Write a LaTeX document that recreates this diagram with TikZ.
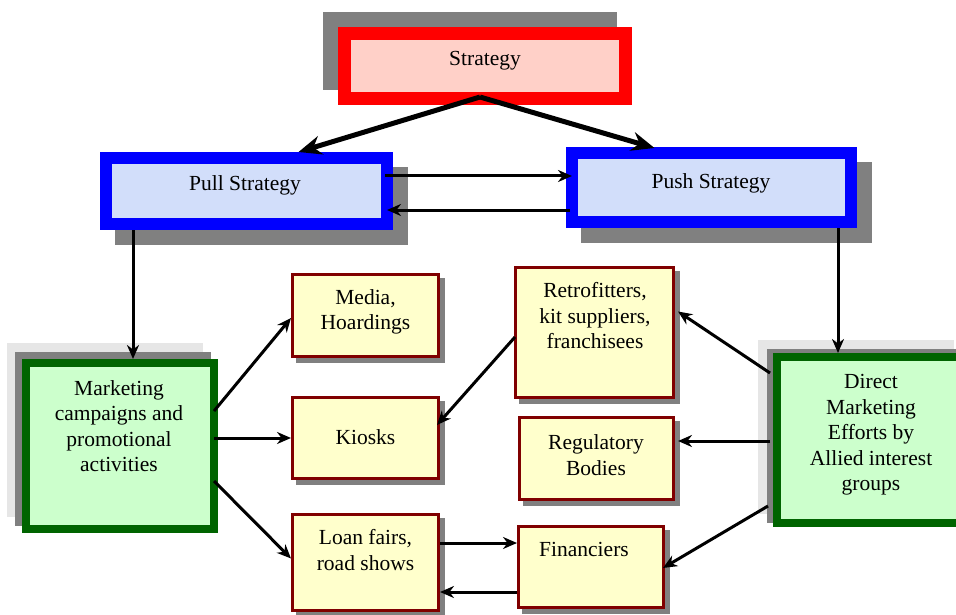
\documentclass[tikz,border=0pt]{standalone}
\usepackage{fontspec}
\setmainfont{Liberation Serif}
\usetikzlibrary{arrows.meta,calc,backgrounds}
\definecolor{stratred}{RGB}{255,0,0}
\definecolor{stratfill}{RGB}{255,208,200}
\definecolor{sideblue}{RGB}{0,0,255}
\definecolor{sidefill}{RGB}{210,222,250}
\definecolor{maingreen}{RGB}{0,100,0}
\definecolor{mainfill}{RGB}{204,255,204}
\definecolor{itemred}{RGB}{128,0,0}
\definecolor{itemfill}{RGB}{255,255,204}
\definecolor{shadegray}{RGB}{128,128,128}
\definecolor{shadelight}{RGB}{230,230,230}

\begin{document}
\begin{tikzpicture}[x=1pt, y=-1pt, line join=miter,
    font=\fontsize{21.5}{25.5}\selectfont,
    box/.style={rectangle, inner sep=0pt},
    topbox/.style={box, draw=stratred, fill=stratfill, line width=13pt},
    sidebox/.style={box, draw=sideblue, fill=sidefill, line width=12pt},
    mainbox/.style={box, draw=maingreen, fill=mainfill, line width=8pt, minimum width=188, minimum height=166},
    itembox/.style={box, draw=itemred, fill=itemfill, line width=3pt},
    txt/.style={align=center, inner sep=0pt},
    arr/.style={line width=3pt, -{Stealth[length=14pt,width=12pt]}},
    bigarr/.style={line width=5pt, -{Stealth[length=23pt,width=19pt]}}]
  \useasboundingbox (0,0) rectangle (956,615);

  % Top level
  \node[topbox, minimum width=281, minimum height=65] (strat) at (485,66) {};
  \node[sidebox, minimum width=281, minimum height=66] (pull) at (246.5,191) {};
  \node[sidebox, minimum width=279, minimum height=69] (push) at (711.5,187.5) {};

  % Channel boxes
  \node[mainbox] (mkt) at (120,446) {};
  \node[mainbox] (direct) at (871,440) {};

  % Target boxes
  \node[itembox, minimum width=146, minimum height=82] (media) at (365.5,315.5) {};
  \node[itembox, minimum width=146, minimum height=81] (kiosk) at (365.5,438) {};
  \node[itembox, minimum width=146, minimum height=96] (loan) at (365.5,562.5) {};
  \node[itembox, minimum width=158, minimum height=130] (retro) at (594.5,332.5) {};
  \node[itembox, minimum width=154, minimum height=82] (reg) at (596.5,458.5) {};
  \node[itembox, minimum width=145, minimum height=81] (fin) at (591,567) {};

  % Shadows
  \begin{scope}[on background layer]
    \foreach \n/\dx/\dy in {mkt/-15/-16, direct/-15/-13}
      \fill[shadelight] ($(\n.north west)+(\dx,\dy)$) rectangle ($(\n.south east)+(\dx,\dy)$);
    \foreach \n/\dx/\dy in {strat/-15/-15, pull/15/15, push/15/15, mkt/-7/-7, direct/-6/-4,
        media/5/5, kiosk/5/5, loan/5/5, retro/5/5, reg/5/5, fin/5/5}
      \fill[shadegray] ($(\n.north west)+(\dx,\dy)$) rectangle ($(\n.south east)+(\dx,\dy)$);
  \end{scope}

  % Labels
  \node[txt] (stratT) at (485,61) {Strategy};
  \node[txt] (pullT) at (245,185) {Pull Strategy};
  \node[txt] (pushT) at (711,183) {Push Strategy};
  \node[txt] (mktT) at (119,426) {Marketing\\campaigns and\\promotional\\activities};
  \node[txt] (directT) at (871,435) {Direct\\Marketing\\Efforts by\\Allied interest\\groups};
  \node[txt] (mediaT) at (365.5,312) {Media,\\Hoardings};
  \node[txt] (kioskT) at (365.5,437) {Kiosks};
  \node[txt] (loanT) at (365.5,550) {Loan fairs,\\road shows};
  \node[txt] (retroT) at (595,316) {Retrofitters,\\kit suppliers,\\franchisees};
  \node[txt] (regT) at (596,455) {Regulatory\\Bodies};
  \node[txt] (finT) at (584,549) {Financiers};

  % Connectors
  \draw[bigarr] ($(strat.south)+(-5,-8)$) -- ($(pull.north)+(52,0)$);
  \draw[bigarr] ($(strat.south)+(-5,-8)$) -- ($(push.north)+(-57,1)$);
  \draw[arr] ($(pull.east)+(-8,-15)$) -- ($(push.west)+(6,-11.5)$);
  \draw[arr] ($(push.west)+(4,22.5)$) -- ($(pull.east)+(-6,19)$);
  \draw[arr] ($(pull.south)+(-113.5,0)$) -- ($(mkt.north)+(13,0)$);
  \draw[arr] ($(push.south)+(126.5,0)$) -- ($(direct.north)+(-33,0)$);
  \draw[arr] ($(mkt.east)+(-4,-35)$) -- ($(media.west)+(0,2.5)$);
  \draw[arr] ($(mkt.east)+(-4,-8)$) -- (kiosk.west);
  \draw[arr] ($(mkt.east)+(-4,35)$) -- ($(loan.west)+(0,-4)$);
  \draw[arr] ($(direct.west)+(-3,-67)$) -- ($(retro.east)+(3,-21)$);
  \draw[arr] ($(direct.west)+(-3,1)$) -- ($(reg.east)+(3,-17.5)$);
  \draw[arr] ($(direct.west)+(-5,66)$) -- ($(fin.east)+(-2,1)$);
  \draw[arr] ($(retro.west)+(1,4.5)$) -- ($(kiosk.east)+(-3,-13)$);
  \draw[arr] ($(loan.east)+(0,-19.5)$) -- ($(fin.west)+(0,-24)$);
  \draw[arr] ($(fin.west)+(0,25)$) -- ($(loan.east)+(0,29.5)$);
\end{tikzpicture}
\end{document}
